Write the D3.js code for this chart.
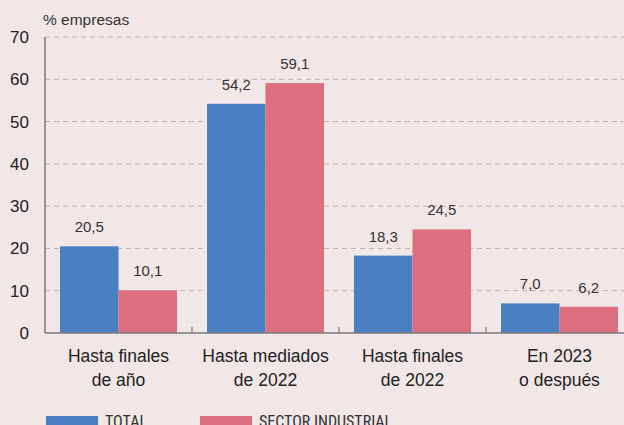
<!DOCTYPE html>
<html>
<head>
<meta charset="utf-8">
<script src="https://cdn.jsdelivr.net/npm/d3@7"></script>
<style>
  html, body { margin: 0; padding: 0; background: #f1e7e6; overflow: hidden; }
  svg { display: block; font-family: "Liberation Sans", Arial, sans-serif; }
</style>
</head>
<body>
<div id="chart"></div>
<script>
const width = 624;
const height = 425;

// Data
const categories = [["Hasta finales", "de año"], ["Hasta mediados", "de 2022"], ["Hasta finales", "de 2022"], ["En 2023", "o después"]];
const seriesNames = ["TOTAL", "SECTOR INDUSTRIAL"];
const totalValues = [20.5, 54.2, 18.3, 7.0];
const industrialValues = [10.1, 59.1, 24.5, 6.2];
const yTicks = [0, 10, 20, 30, 40, 50, 60, 70];
const colors = ["#4a80c2", "#dd6e7f"];

const margin = { left: 45, top: 37, bottom: 333 };

const svg = d3.select("#chart").append("svg")
  .attr("width", width)
  .attr("height", height);

const x = d3.scaleBand()
  .domain(d3.range(categories.length))
  .range([margin.left, margin.left + 4 * 147])
  .paddingInner(0)
  .paddingOuter(0);

const xInner = d3.scaleBand()
  .domain([0, 1])
  .range([15, 147 - 15]);

const y = d3.scaleLinear()
  .domain([0, 70])
  .range([margin.bottom, margin.top]);

const fmt = v => v.toFixed(1).replace(".", ",");

// gridlines
svg.append("g").selectAll("line")
  .data(yTicks.filter(d => d > 0))
  .enter().append("line")
  .attr("x1", margin.left)
  .attr("x2", width)
  .attr("y1", d => y(d))
  .attr("y2", d => y(d))
  .attr("stroke", "#b9b3b3")
  .attr("stroke-width", 1)
  .attr("stroke-dasharray", "5,4");

// bars
const rows = categories.map((c, i) => [totalValues[i], industrialValues[i]]);
const groups = svg.append("g").selectAll("g")
  .data(rows)
  .enter().append("g")
  .attr("transform", (d, i) => `translate(${x(i)},0)`);

groups.selectAll("rect")
  .data(d => d)
  .enter().append("rect")
  .attr("x", (d, j) => xInner(j))
  .attr("width", xInner.bandwidth())
  .attr("y", d => y(d))
  .attr("height", d => y(0) - y(d))
  .attr("fill", (d, j) => colors[j]);

groups.selectAll("text")
  .data(d => d)
  .enter().append("text")
  .attr("x", (d, j) => xInner(j) + xInner.bandwidth() / 2)
  .attr("y", d => y(d) - 14)
  .attr("text-anchor", "middle")
  .attr("font-size", 15)
  .attr("fill", "#333")
  .text(d => fmt(d));

// y axis
svg.append("line")
  .attr("x1", margin.left).attr("x2", margin.left)
  .attr("y1", margin.top).attr("y2", margin.bottom)
  .attr("stroke", "#7b7878").attr("stroke-width", 1.5);

svg.append("g").selectAll("text")
  .data(yTicks)
  .enter().append("text")
  .attr("x", 29)
  .attr("y", d => y(d) + 6)
  .attr("text-anchor", "end")
  .attr("font-size", 17)
  .attr("fill", "#222")
  .text(d => d);

svg.append("text")
  .attr("x", 43)
  .attr("y", 25)
  .attr("font-size", 15.5)
  .attr("fill", "#333")
  .text("% empresas");

// x axis
svg.append("line")
  .attr("x1", margin.left).attr("x2", width)
  .attr("y1", margin.bottom).attr("y2", margin.bottom)
  .attr("stroke", "#7b7878").attr("stroke-width", 1.5);

svg.append("g").selectAll("line")
  .data(d3.range(1, categories.length))
  .enter().append("line")
  .attr("x1", i => x(i)).attr("x2", i => x(i))
  .attr("y1", margin.bottom).attr("y2", margin.bottom - 6)
  .attr("stroke", "#7b7878").attr("stroke-width", 1.2);

const labels = svg.append("g").selectAll("text")
  .data(categories)
  .enter().append("text")
  .attr("x", (d, i) => x(i) + x.bandwidth() / 2)
  .attr("y", 362)
  .attr("text-anchor", "middle")
  .attr("font-size", 17.5)
  .attr("fill", "#222");

labels.selectAll("tspan")
  .data(d => d)
  .enter().append("tspan")
  .attr("x", function() { return d3.select(this.parentNode).attr("x"); })
  .attr("dy", (d, k) => k === 0 ? 0 : 24)
  .text(d => d);

// legend (cut by the bottom edge, as in the reference)
const legendX = [46, 200];
const legend = svg.append("g").selectAll("g")
  .data(seriesNames)
  .enter().append("g")
  .attr("transform", (d, i) => `translate(${legendX[i]},416)`);

legend.append("rect")
  .attr("width", 52)
  .attr("height", 14)
  .attr("fill", (d, i) => colors[i]);

legend.append("text")
  .attr("x", 59)
  .attr("y", 11)
  .attr("font-size", 16)
  .attr("fill", "#333")
  .attr("font-family", "'Liberation Sans Narrow', 'Roboto Condensed', Arial, sans-serif")
  .text(d => d);
</script>
</body>
</html>
